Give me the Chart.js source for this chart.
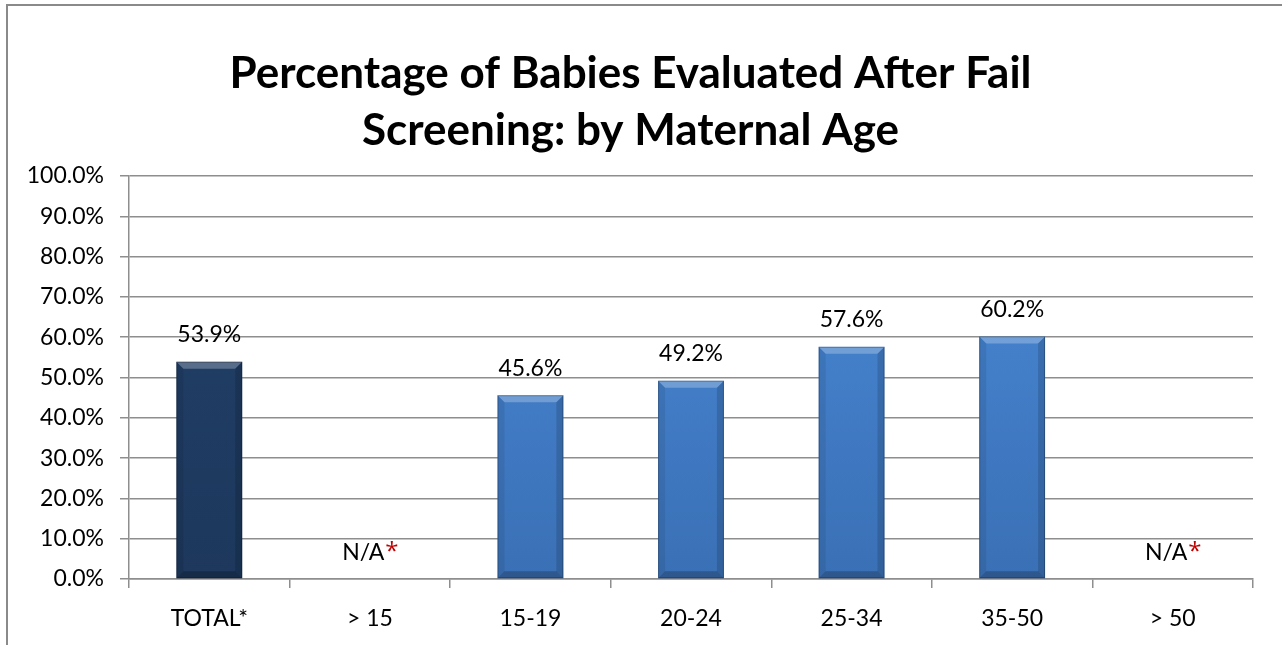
<!DOCTYPE html>
<html>
<head>
<meta charset="utf-8">
<script src="https://cdn.jsdelivr.net/npm/chart.js@4.4.1/dist/chart.umd.min.js"></script>
<style>
html,body{margin:0;padding:0;background:#fff;}
#wrap{position:relative;width:1282px;height:645px;}
</style>
</head>
<body>
<div id="wrap"><canvas id="c" width="1282" height="645"></canvas></div>
<script>
// ---- data ----
const categories = ['TOTAL*', '> 15', '15-19', '20-24', '25-34', '35-50', '> 50'];
const values = [53.9, null, 45.6, 49.2, 57.6, 60.2, null];
const naFlags = [false, true, false, false, false, false, true];
const titleLines = ['Percentage of Babies Evaluated After Fail', 'Screening: by Maternal Age'];
const yMin = 0, yMax = 100, yStep = 10;

// ---- style ----
const FONT = "Lato, 'Open Sans', sans-serif";
const LABEL_FONT = `23px ${FONT}`;
const STAR_FONT = `24px 'Open Sans', sans-serif`;
const GRID = '#8e8e8e';
const NA_VALUE = 6.5;

function barFill(ctx) {
  const chart = ctx.chart;
  const area = chart.chartArea;
  if (!area) return '#3F7FCC';
  const g = chart.ctx.createLinearGradient(0, area.top, 0, area.bottom);
  if (ctx.dataIndex === 0) {
    g.addColorStop(0, '#22406a');
    g.addColorStop(1, '#1d385c');
  } else {
    g.addColorStop(0, '#4a8ad9');
    g.addColorStop(1, '#3a70b5');
  }
  return g;
}

const framePlugin = {
  id: 'frame',
  beforeDraw(chart) {
    const c = chart.ctx;
    c.save();
    c.strokeStyle = '#8a8a8a';
    c.lineWidth = 2;
    c.beginPath();
    c.moveTo(7, 645);
    c.lineTo(7, 5);
    c.lineTo(1282, 5);
    c.stroke();
    c.restore();
  }
};

const bevelPlugin = {
  id: 'bevel',
  afterDatasetsDraw(chart) {
    const c = chart.ctx;
    const meta = chart.getDatasetMeta(0);
    meta.data.forEach((bar, i) => {
      if (values[i] == null) return;
      const p = bar.getProps(['x', 'y', 'base', 'width'], true);
      const L = p.x - p.width / 2, R = p.x + p.width / 2, T = p.y, B = p.base;
      const b = 7;
      c.save();
      c.fillStyle = 'rgba(255,255,255,0.25)';
      c.beginPath(); c.moveTo(L, T); c.lineTo(R, T); c.lineTo(R - b, T + b); c.lineTo(L + b, T + b); c.closePath(); c.fill();
      c.fillStyle = 'rgba(0,0,0,0.08)';
      c.beginPath(); c.moveTo(L, T); c.lineTo(L + b, T + b); c.lineTo(L + b, B - b); c.lineTo(L, B); c.closePath(); c.fill();
      c.fillStyle = 'rgba(0,0,0,0.14)';
      c.beginPath(); c.moveTo(R, T); c.lineTo(R - b, T + b); c.lineTo(R - b, B - b); c.lineTo(R, B); c.closePath(); c.fill();
      c.fillStyle = 'rgba(0,0,0,0.22)';
      c.beginPath(); c.moveTo(L, B); c.lineTo(R, B); c.lineTo(R - b, B - b); c.lineTo(L + b, B - b); c.closePath(); c.fill();
      c.strokeStyle = 'rgba(0,0,0,0.25)';
      c.lineWidth = 1;
      c.strokeRect(L + 0.5, T + 0.5, p.width - 1, B - T - 1);
      c.restore();
    });
  }
};

const labelPlugin = {
  id: 'valueLabels',
  afterDatasetsDraw(chart) {
    const c = chart.ctx;
    const meta = chart.getDatasetMeta(0);
    const ys = chart.scales.y;
    c.save();
    c.textBaseline = 'middle';
    meta.data.forEach((bar, i) => {
      const x = bar.x;
      if (values[i] != null) {
        c.font = LABEL_FONT;
        c.fillStyle = '#000';
        c.textAlign = 'center';
        c.fillText(values[i].toFixed(1) + '%', x, bar.y - 27);
      } else if (naFlags[i]) {
        const t1 = 'N/A', t2 = '*';
        c.font = LABEL_FONT;
        const w1 = c.measureText(t1).width;
        c.font = STAR_FONT;
        const w2 = c.measureText(t2).width;
        const start = x - (w1 + w2) / 2;
        const y = ys.getPixelForValue(NA_VALUE);
        c.textAlign = 'left';
        c.font = LABEL_FONT;
        c.fillStyle = '#000';
        c.fillText(t1, start, y);
        c.font = STAR_FONT;
        c.fillStyle = '#c00000';
        c.fillText(t2, start + w1 + 1, y - 1);
      }
    });
    c.restore();
  }
};

new Chart(document.getElementById('c'), {
  type: 'bar',
  data: {
    labels: categories,
    datasets: [{
      data: values,
      backgroundColor: barFill,
      borderWidth: 0,
      categoryPercentage: 1,
      barPercentage: 0.41
    }]
  },
  options: {
    responsive: false,
    animation: false,
    layout: { padding: { left: 8, right: 29, top: 0, bottom: 0 } },
    plugins: {
      legend: { display: false },
      tooltip: { enabled: false },
      title: {
        display: true,
        text: titleLines,
        color: '#000',
        font: { family: FONT, size: 44, weight: 'bold', lineHeight: '57px' },
        padding: { top: 45, bottom: 17 }
      }
    },
    scales: {
      y: {
        min: yMin, max: yMax,
        ticks: {
          stepSize: yStep,
          color: '#000',
          font: { family: FONT, size: 23 },
          padding: 16,
          callback: v => v.toFixed(1) + '%'
        },
        grid: { color: GRID, lineWidth: 1.5, tickLength: 9, drawTicks: true },
        border: { color: GRID, width: 1.5 },
        afterFit(scale) { scale.width = 121; }
      },
      x: {
        ticks: {
          color: '#000',
          font: { family: FONT, size: 23 },
          padding: 17
        },
        grid: { color: GRID, lineWidth: 1.5, drawOnChartArea: false, tickLength: 9, offset: true },
        border: { color: GRID, width: 1.5 },
        afterFit(scale) { scale.height = 66; }
      }
    }
  },
  plugins: [framePlugin, bevelPlugin, labelPlugin]
});
</script>
</body>
</html>
